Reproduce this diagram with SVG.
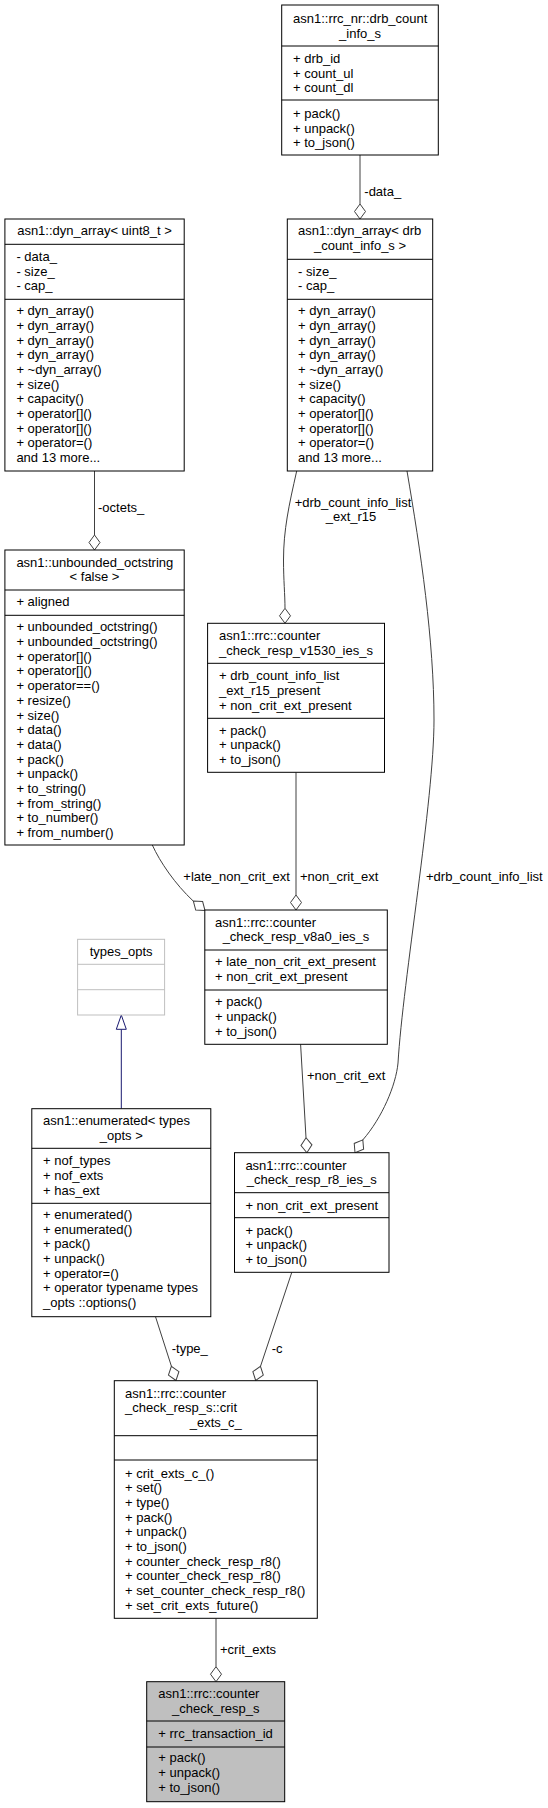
<svg xmlns="http://www.w3.org/2000/svg" xmlns:xlink="http://www.w3.org/1999/xlink" width="548" height="1808" viewBox="0 0 548 1808">
<style>
.bg{fill:#fff}
.box{fill:#fff;stroke:#000;stroke-width:1}
.gbox{fill:#fff;stroke:#bfbfbf;stroke-width:1}
.sel{fill:#bfbfbf;stroke:#000;stroke-width:1}
.ln{stroke:#000;stroke-width:1}
.gln{stroke:#bfbfbf;stroke-width:1}
text{font-family:"Liberation Sans",Arial,Helvetica,sans-serif;font-size:13px;fill:#000}
.m{text-anchor:middle}
.e{fill:none;stroke:#404040;stroke-width:1}
.d{fill:#fff;stroke:#404040;stroke-width:1}
.inh{fill:none;stroke:#191970;stroke-width:1}
.tri{fill:#fff;stroke:#191970;stroke-width:1}
</style>
<defs>
<path id="dia" d="M0,0 L-5.5,-7.5 L0,-15 L5.5,-7.5 Z"/>
</defs>
<rect class="bg" x="0" y="0" width="548" height="1808"/>

<g id="connectors">
<path class="e" d="M360,155 L360,204"/>
<use href="#dia" class="d" transform="translate(360,219)"/>
<text x="364.3" y="196">-data_</text>

<path class="e" d="M94.5,471 L94.5,535"/>
<use href="#dia" class="d" transform="translate(94.5,550)"/>
<text x="98" y="512">-octets_</text>

<path class="e" d="M296.7,471 C289,505 283.5,530 283.5,560 C283.5,580 285,595 285,608.3"/>
<use href="#dia" class="d" transform="translate(285,623.3)"/>
<text class="m" x="353" y="507.2">+drb_count_info_list</text>
<text class="m" x="351" y="521.2">_ext_r15</text>

<path class="e" d="M407,471 C420.6,551 434,640 434,720 C434,800 403,980 398,1063 C396,1085 382,1118 362.8,1139.9"/>
<use href="#dia" class="d" transform="translate(355,1152.7) rotate(31.5)"/>
<text x="426" y="881.2">+drb_count_info_list</text>

<path class="e" d="M152.3,845 C160,862 175,884 193.3,901.1"/>
<use href="#dia" class="d" transform="translate(205,910.5) rotate(-51)"/>
<text x="183.3" y="881.2">+late_non_crit_ext</text>

<path class="e" d="M296,772.3 L296,895"/>
<use href="#dia" class="d" transform="translate(296,910)"/>
<text x="300" y="881.2">+non_crit_ext</text>

<path class="e" d="M300.6,1044.3 L306,1137.7"/>
<use href="#dia" class="d" transform="translate(306.9,1152.7) rotate(-3.3)"/>
<text x="307" y="1080.2">+non_crit_ext</text>

<path class="inh" d="M121.3,1108.7 L121.3,1029.3"/>
<path class="tri" d="M121.3,1015 L116.3,1029.3 L126.3,1029.3 Z"/>

<path class="e" d="M155.5,1316.7 L171.4,1366.2"/>
<use href="#dia" class="d" transform="translate(176,1380.5) rotate(-18)"/>
<text x="171.7" y="1352.8">-type_</text>

<path class="e" d="M291.8,1272.3 L260.5,1366.3"/>
<use href="#dia" class="d" transform="translate(255.7,1380.5) rotate(18.5)"/>
<text x="271.7" y="1352.8">-c</text>

<path class="e" d="M216,1618.3 L216,1666.7"/>
<use href="#dia" class="d" transform="translate(216,1681.7)"/>
<text x="220" y="1653.5">+crit_exts</text>
</g>

<g id="drb_count_info_s">
<rect class="box" x="281.7" y="5" width="156.6" height="150"/>
<line class="ln" x1="281.7" y1="46" x2="438.3" y2="46"/>
<line class="ln" x1="281.7" y1="100" x2="438.3" y2="100"/>
<text x="293" y="23">asn1::rrc_nr::drb_count</text>
<text class="m" x="360" y="37.5">_info_s</text>
<text x="293" y="63">+ drb_id</text>
<text x="293" y="77.5">+ count_ul</text>
<text x="293" y="92">+ count_dl</text>
<text x="293" y="118">+ pack()</text>
<text x="293" y="132.5">+ unpack()</text>
<text x="293" y="147">+ to_json()</text>
</g>

<g id="dyn_array_uint8">
<rect class="box" x="4.9" y="219" width="179.3" height="252"/>
<line class="ln" x1="4.9" y1="244.3" x2="184.2" y2="244.3"/>
<line class="ln" x1="4.9" y1="299.3" x2="184.2" y2="299.3"/>
<text class="m" x="94.5" y="235.2">asn1::dyn_array&lt; uint8_t &gt;</text>
<text x="16.4" y="261">- data_</text>
<text x="16.4" y="275.7">- size_</text>
<text x="16.4" y="290.3">- cap_</text>
<text x="16.4" y="315.2">+ dyn_array()</text>
<text x="16.4" y="329.9">+ dyn_array()</text>
<text x="16.4" y="344.5">+ dyn_array()</text>
<text x="16.4" y="359.2">+ dyn_array()</text>
<text x="16.4" y="373.9">+ ~dyn_array()</text>
<text x="16.4" y="388.5">+ size()</text>
<text x="16.4" y="403.2">+ capacity()</text>
<text x="16.4" y="417.9">+ operator[]()</text>
<text x="16.4" y="432.5">+ operator[]()</text>
<text x="16.4" y="447.2">+ operator=()</text>
<text x="16.4" y="461.9">and 13 more...</text>
</g>

<g id="dyn_array_drb">
<rect class="box" x="287.3" y="219" width="145.4" height="252"/>
<line class="ln" x1="287.3" y1="259.3" x2="432.7" y2="259.3"/>
<line class="ln" x1="287.3" y1="299.3" x2="432.7" y2="299.3"/>
<text x="298.1" y="235.2">asn1::dyn_array&lt; drb</text>
<text class="m" x="360" y="249.5">_count_info_s &gt;</text>
<text x="298.1" y="275.7">- size_</text>
<text x="298.1" y="290.3">- cap_</text>
<text x="298.1" y="315.2">+ dyn_array()</text>
<text x="298.1" y="329.9">+ dyn_array()</text>
<text x="298.1" y="344.5">+ dyn_array()</text>
<text x="298.1" y="359.2">+ dyn_array()</text>
<text x="298.1" y="373.9">+ ~dyn_array()</text>
<text x="298.1" y="388.5">+ size()</text>
<text x="298.1" y="403.2">+ capacity()</text>
<text x="298.1" y="417.9">+ operator[]()</text>
<text x="298.1" y="432.5">+ operator[]()</text>
<text x="298.1" y="447.2">+ operator=()</text>
<text x="298.1" y="461.9">and 13 more...</text>
</g>

<g id="unbounded_octstring">
<rect class="box" x="4.9" y="550" width="179.3" height="295"/>
<line class="ln" x1="4.9" y1="590" x2="184.2" y2="590"/>
<line class="ln" x1="4.9" y1="615.3" x2="184.2" y2="615.3"/>
<text x="16.4" y="566.5">asn1::unbounded_octstring</text>
<text class="m" x="94.5" y="581.2">&lt; false &gt;</text>
<text x="16.4" y="606.2">+ aligned</text>
<text x="16.4" y="631.2">+ unbounded_octstring()</text>
<text x="16.4" y="645.9">+ unbounded_octstring()</text>
<text x="16.4" y="660.6">+ operator[]()</text>
<text x="16.4" y="675.3">+ operator[]()</text>
<text x="16.4" y="690">+ operator==()</text>
<text x="16.4" y="704.8">+ resize()</text>
<text x="16.4" y="719.5">+ size()</text>
<text x="16.4" y="734.2">+ data()</text>
<text x="16.4" y="748.9">+ data()</text>
<text x="16.4" y="763.6">+ pack()</text>
<text x="16.4" y="778.3">+ unpack()</text>
<text x="16.4" y="793">+ to_string()</text>
<text x="16.4" y="807.7">+ from_string()</text>
<text x="16.4" y="822.4">+ to_number()</text>
<text x="16.4" y="837.1">+ from_number()</text>
</g>

<g id="counter_check_resp_v1530_ies_s">
<rect class="box" x="207.6" y="623.3" width="176.9" height="149"/>
<line class="ln" x1="207.6" y1="663.3" x2="384.5" y2="663.3"/>
<line class="ln" x1="207.6" y1="718.3" x2="384.5" y2="718.3"/>
<text x="219.1" y="639.5">asn1::rrc::counter</text>
<text class="m" x="296" y="654.5">_check_resp_v1530_ies_s</text>
<text x="219.1" y="679.5">+ drb_count_info_list</text>
<text x="219.1" y="694.5">_ext_r15_present</text>
<text x="219.1" y="709.5">+ non_crit_ext_present</text>
<text x="219.1" y="734.5">+ pack()</text>
<text x="219.1" y="749.2">+ unpack()</text>
<text x="219.1" y="763.8">+ to_json()</text>
</g>

<g id="counter_check_resp_v8a0_ies_s">
<rect class="box" x="204.8" y="910" width="182.5" height="134.3"/>
<line class="ln" x1="204.8" y1="950" x2="387.3" y2="950"/>
<line class="ln" x1="204.8" y1="990" x2="387.3" y2="990"/>
<text x="215" y="926.5">asn1::rrc::counter</text>
<text class="m" x="296" y="941.2">_check_resp_v8a0_ies_s</text>
<text x="215" y="966.2">+ late_non_crit_ext_present</text>
<text x="215" y="981.2">+ non_crit_ext_present</text>
<text x="215" y="1006.2">+ pack()</text>
<text x="215" y="1020.9">+ unpack()</text>
<text x="215" y="1035.5">+ to_json()</text>
</g>

<g id="types_opts">
<rect class="gbox" x="77.6" y="939.3" width="87" height="75.7"/>
<line class="gln" x1="77.6" y1="964.3" x2="164.6" y2="964.3"/>
<line class="gln" x1="77.6" y1="989.7" x2="164.6" y2="989.7"/>
<text class="m" x="121.1" y="955.5">types_opts</text>
</g>

<g id="enumerated_types_opts">
<rect class="box" x="31.8" y="1108.7" width="179" height="208"/>
<line class="ln" x1="31.8" y1="1148.3" x2="210.8" y2="1148.3"/>
<line class="ln" x1="31.8" y1="1203.3" x2="210.8" y2="1203.3"/>
<text x="43" y="1125.2">asn1::enumerated&lt; types</text>
<text class="m" x="121.3" y="1139.5">_opts &gt;</text>
<text x="43" y="1165.2">+ nof_types</text>
<text x="43" y="1179.9">+ nof_exts</text>
<text x="43" y="1194.5">+ has_ext</text>
<text x="43" y="1218.8">+ enumerated()</text>
<text x="43" y="1233.5">+ enumerated()</text>
<text x="43" y="1248.2">+ pack()</text>
<text x="43" y="1262.9">+ unpack()</text>
<text x="43" y="1277.6">+ operator=()</text>
<text x="43" y="1292.3">+ operator typename types</text>
<text x="43" y="1307">_opts ::options()</text>
</g>

<g id="counter_check_resp_r8_ies_s">
<rect class="box" x="234.5" y="1152.7" width="154.5" height="119.6"/>
<line class="ln" x1="234.5" y1="1192.7" x2="389" y2="1192.7"/>
<line class="ln" x1="234.5" y1="1217.7" x2="389" y2="1217.7"/>
<text x="245.4" y="1169.5">asn1::rrc::counter</text>
<text class="m" x="311.8" y="1183.5">_check_resp_r8_ies_s</text>
<text x="245.4" y="1209.5">+ non_crit_ext_present</text>
<text x="245.4" y="1234.5">+ pack()</text>
<text x="245.4" y="1249.2">+ unpack()</text>
<text x="245.4" y="1263.9">+ to_json()</text>
</g>

<g id="crit_exts_c_">
<rect class="box" x="114.3" y="1380.7" width="203" height="237.6"/>
<line class="ln" x1="114.3" y1="1435.7" x2="317.3" y2="1435.7"/>
<line class="ln" x1="114.3" y1="1460" x2="317.3" y2="1460"/>
<text x="125" y="1397.8">asn1::rrc::counter</text>
<text x="125" y="1412.2">_check_resp_s::crit</text>
<text class="m" x="215.8" y="1426.5">_exts_c_</text>
<text x="125" y="1477.8">+ crit_exts_c_()</text>
<text x="125" y="1492.4">+ set()</text>
<text x="125" y="1507.1">+ type()</text>
<text x="125" y="1521.7">+ pack()</text>
<text x="125" y="1536.3">+ unpack()</text>
<text x="125" y="1551">+ to_json()</text>
<text x="125" y="1565.6">+ counter_check_resp_r8()</text>
<text x="125" y="1580.2">+ counter_check_resp_r8()</text>
<text x="125" y="1594.9">+ set_counter_check_resp_r8()</text>
<text x="125" y="1609.5">+ set_crit_exts_future()</text>
</g>

<g id="counter_check_resp_s">
<rect class="sel" x="146.7" y="1681.7" width="138" height="120"/>
<line class="ln" x1="146.7" y1="1721" x2="284.7" y2="1721"/>
<line class="ln" x1="146.7" y1="1747" x2="284.7" y2="1747"/>
<text x="158.3" y="1697.8">asn1::rrc::counter</text>
<text class="m" x="215.7" y="1712.8">_check_resp_s</text>
<text x="158.3" y="1737.8">+ rrc_transaction_id</text>
<text x="158.3" y="1762.2">+ pack()</text>
<text x="158.3" y="1776.9">+ unpack()</text>
<text x="158.3" y="1791.5">+ to_json()</text>
</g>
</svg>
